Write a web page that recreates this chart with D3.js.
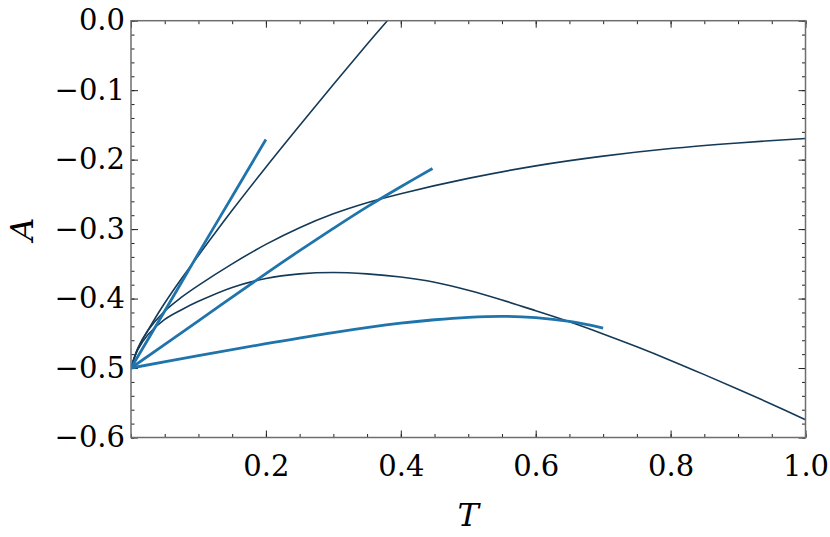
<!DOCTYPE html>
<html>
<head>
<meta charset="utf-8">
<script src="https://cdn.jsdelivr.net/npm/d3@7"></script>
<style>
  body { margin: 0; background: #fff; }
</style>
</head>
<body>
<script>
// values
var xTicks = [0.2, 0.4, 0.6, 0.8, 1.0];
var yTicks = [-0.6, -0.5, -0.4, -0.3, -0.2, -0.1, 0.0];

// dark thin curves
var darkT1 = [0, 0.01, 0.025, 0.045, 0.07, 0.1, 0.15, 0.2, 0.25, 0.3, 0.35, 0.38];
var darkA1 = [-0.5, -0.472, -0.446, -0.414, -0.378, -0.338, -0.273, -0.211, -0.151, -0.092, -0.034, 0.0];
var darkT2 = [0, 0.01, 0.025, 0.05, 0.075, 0.1, 0.15, 0.2, 0.25, 0.3, 0.35, 0.4, 0.5, 0.6, 0.7, 0.8, 0.9, 1.0];
var darkA2 = [-0.5, -0.472, -0.446, -0.418, -0.398, -0.381, -0.350, -0.322, -0.298, -0.278, -0.262, -0.249, -0.227, -0.209, -0.195, -0.184, -0.176, -0.1695];
var darkT3 = [0, 0.01, 0.025, 0.05, 0.075, 0.1, 0.15, 0.2, 0.25, 0.3, 0.35, 0.4, 0.45, 0.5, 0.55, 0.6, 0.65, 0.7, 0.75, 0.8, 0.85, 0.9, 0.95, 1.0];
var darkA3 = [-0.5, -0.474, -0.452, -0.43, -0.416, -0.404, -0.384, -0.371, -0.3645, -0.3625, -0.3645, -0.369, -0.3765, -0.388, -0.402, -0.4175, -0.4335, -0.451, -0.4695, -0.489, -0.5095, -0.5305, -0.552, -0.5745];

// thick blue curves
var blueT1 = [0, 0.05, 0.1, 0.15, 0.2];
var blueA1 = [-0.5, -0.418, -0.335, -0.253, -0.171];
var blueT2 = [0, 0.1, 0.2, 0.25, 0.3, 0.35, 0.4, 0.447];
var blueA2 = [-0.5, -0.432, -0.364, -0.331, -0.299, -0.268, -0.239, -0.2127];
var blueT3 = [0, 0.1, 0.2, 0.3, 0.4, 0.45, 0.5, 0.55, 0.6, 0.65, 0.7];
var blueA3 = [-0.5, -0.482, -0.465, -0.449, -0.4355, -0.4305, -0.427, -0.4255, -0.4275, -0.433, -0.4425];

var width = 830, height = 537;
var margin = {left: 131, right: 24.5, top: 20.7, bottom: 99.5};
var labelFont = "DejaVu Serif, serif";

var svg = d3.select("body").append("svg")
  .attr("width", width)
  .attr("height", height);

var x = d3.scaleLinear().domain([0, 1]).range([margin.left, width - margin.right]);
var y = d3.scaleLinear().domain([-0.6, 0]).range([height - margin.bottom, margin.top]);

var fmt = d3.format(".1f");

function styleAxis(g) {
  g.attr("font-family", labelFont).attr("font-size", 29);
  g.select(".domain").remove();
  g.selectAll(".tick line").attr("stroke", "#222").attr("stroke-width", 1);
  g.selectAll(".tick text")
    .style("font-family", labelFont)
    .style("font-size", "29px")
    .attr("fill", "#000");
}

var plotBottom = height - margin.bottom, plotRight = width - margin.right;
var xMinor = d3.range(0, 21).map(function(i) { return i * 0.05; });
var yMinor = d3.range(0, 31).map(function(i) { return -0.6 + i * 0.02; });

// minor ticks, pointing inward on all four sides
svg.append("g").attr("transform", "translate(0," + plotBottom + ")")
  .call(d3.axisBottom(x).tickValues(xMinor).tickSize(-3.5).tickFormat("")).call(styleAxis);
svg.append("g").attr("transform", "translate(0," + margin.top + ")")
  .call(d3.axisTop(x).tickValues(xMinor).tickSize(-3.5).tickFormat("")).call(styleAxis);
svg.append("g").attr("transform", "translate(" + margin.left + ",0)")
  .call(d3.axisLeft(y).tickValues(yMinor).tickSize(-3.5).tickFormat("")).call(styleAxis);
svg.append("g").attr("transform", "translate(" + plotRight + ",0)")
  .call(d3.axisRight(y).tickValues(yMinor).tickSize(-3.5).tickFormat("")).call(styleAxis);

// major ticks with labels
svg.append("g").attr("transform", "translate(0," + plotBottom + ")")
  .call(d3.axisBottom(x).tickValues(xTicks).tickSize(-7).tickPadding(18).tickFormat(fmt)).call(styleAxis);
svg.append("g").attr("transform", "translate(0," + margin.top + ")")
  .call(d3.axisTop(x).tickValues([0].concat(xTicks)).tickSize(-7).tickFormat("")).call(styleAxis);
svg.append("g").attr("transform", "translate(" + margin.left + ",0)")
  .call(d3.axisLeft(y).tickValues(yTicks).tickSize(-7).tickPadding(6).tickFormat(fmt)).call(styleAxis);
svg.append("g").attr("transform", "translate(" + plotRight + ",0)")
  .call(d3.axisRight(y).tickValues(yTicks).tickSize(-7).tickFormat("")).call(styleAxis);

// clip so the steep curve stops at the top frame
svg.append("clipPath").attr("id", "clip").append("rect")
  .attr("x", margin.left).attr("y", margin.top)
  .attr("width", plotRight - margin.left).attr("height", plotBottom - margin.top);

var line = d3.line()
  .x(function(d) { return x(d[0]); })
  .y(function(d) { return y(d[1]); })
  .curve(d3.curveCatmullRom.alpha(0.5));

var series = [
  {t: darkT1, a: darkA1, color: "#153a58", w: 1.6},
  {t: darkT2, a: darkA2, color: "#153a58", w: 1.6},
  {t: darkT3, a: darkA3, color: "#153a58", w: 1.6},
  {t: blueT1, a: blueA1, color: "#1f74ac", w: 2.8},
  {t: blueT2, a: blueA2, color: "#1f74ac", w: 2.8},
  {t: blueT3, a: blueA3, color: "#1f74ac", w: 2.8}
];

svg.append("g").attr("clip-path", "url(#clip)")
  .selectAll("path")
  .data(series)
  .enter()
  .append("path")
  .attr("d", function(s) { return line(s.t.map(function(t, i) { return [t, s.a[i]]; })); })
  .attr("fill", "none")
  .attr("stroke", function(s) { return s.color; })
  .attr("stroke-width", function(s) { return s.w; });

// frame
svg.append("rect")
  .attr("x", margin.left).attr("y", margin.top)
  .attr("width", plotRight - margin.left).attr("height", plotBottom - margin.top)
  .attr("fill", "none").attr("stroke", "#6e6e6e").attr("stroke-width", 1.5);

// axis titles
svg.append("text")
  .attr("x", (margin.left + plotRight) / 2).attr("y", 526)
  .attr("text-anchor", "middle")
  .style("font-family", labelFont).style("font-size", "32px").style("font-style", "italic")
  .text("T");
svg.append("text")
  .attr("transform", "translate(33," + (margin.top + plotBottom) / 2 + ") rotate(-90)")
  .attr("text-anchor", "middle")
  .style("font-family", labelFont).style("font-size", "32px").style("font-style", "italic")
  .text("A");
</script>
</body>
</html>
